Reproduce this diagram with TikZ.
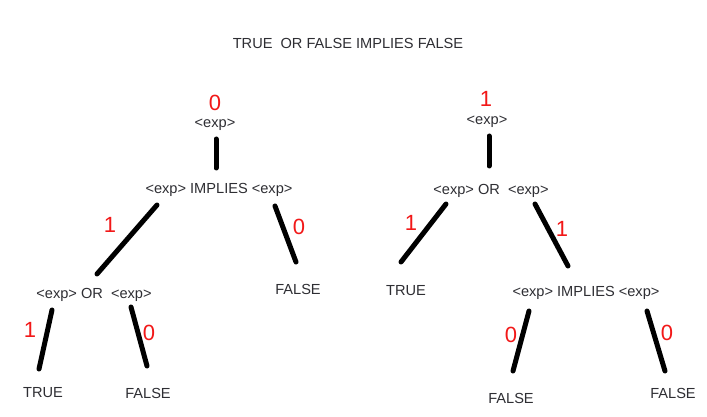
\documentclass[tikz,border=0pt]{standalone}
\usepackage{fontspec}
\setmainfont{Liberation Sans}
\definecolor{txt}{HTML}{2E2E33}
\definecolor{num}{HTML}{F21818}
\begin{document}
\begin{tikzpicture}[x=1pt,y=-1pt,
  lbl/.style={font=\fontsize{14.6}{17}\selectfont, text=txt, inner sep=0pt},
  expl/.style={lbl, yshift=-2.5pt},
  val/.style={font=\fontsize{22}{25}\selectfont, text=num, inner sep=0pt},
  edge/.style={line width=5pt, line cap=round}]
\useasboundingbox[fill=white] (0,0) rectangle (707,417);
\node[lbl] (title) at (348,43) {TRUE\ \ OR\ FALSE IMPLIES FALSE};
% left tree
\node[val] (lv0) at (215,103) {0};
\node[expl] (lroot) at (215,122) {<exp>};
\node[expl] (limp) at (219,187) {<exp> IMPLIES <exp>};
\node[expl] (lor) at (94,292) {<exp> OR\ \ <exp>};
\node[lbl] (lf1) at (298,289) {FALSE};
\node[lbl] (lt) at (43,393) {TRUE};
\node[lbl] (lf2) at (148,393) {FALSE};
\node[val] (lv1) at (110,225) {1};
\node[val] (lv2) at (299,227) {0};
\node[val] (lv3) at (30,330) {1};
\node[val] (lv4) at (149,333) {0};
\coordinate (a1) at (216,139); \coordinate (a2) at (216,168);
\coordinate (b1) at (157,205); \coordinate (b2) at (97,274);
\coordinate (c1) at (275,206); \coordinate (c2) at (296,262);
\coordinate (d1) at (52,310); \coordinate (d2) at (39,369);
\coordinate (e1) at (131,307); \coordinate (e2) at (147,366);
\draw[edge] (a1) -- (a2);
\draw[edge] (b1) -- (b2);
\draw[edge] (c1) -- (c2);
\draw[edge] (d1) -- (d2);
\draw[edge] (e1) -- (e2);
% right tree
\node[val] (rv0) at (486,99) {1};
\node[expl] (rroot) at (487,119) {<exp>};
\node[expl] (ror) at (491,188) {<exp> OR\ \ <exp>};
\node[lbl] (rt) at (406,291) {TRUE};
\node[expl] (rimp) at (586,290) {<exp> IMPLIES <exp>};
\node[lbl] (rf1) at (511,398) {FALSE};
\node[lbl] (rf2) at (673,393) {FALSE};
\node[val] (rv1) at (411,223) {1};
\node[val] (rv2) at (562,229) {1};
\node[val] (rv3) at (511,335) {0};
\node[val] (rv4) at (667,333) {0};
\coordinate (f1) at (489,136); \coordinate (f2) at (489,166);
\coordinate (g1) at (446,204); \coordinate (g2) at (401,262);
\coordinate (h1) at (535,204); \coordinate (h2) at (568,266);
\coordinate (i1) at (529,311); \coordinate (i2) at (513,371);
\coordinate (j1) at (647,311); \coordinate (j2) at (665,371);
\draw[edge] (f1) -- (f2);
\draw[edge] (g1) -- (g2);
\draw[edge] (h1) -- (h2);
\draw[edge] (i1) -- (i2);
\draw[edge] (j1) -- (j2);
\end{tikzpicture}
\end{document}
